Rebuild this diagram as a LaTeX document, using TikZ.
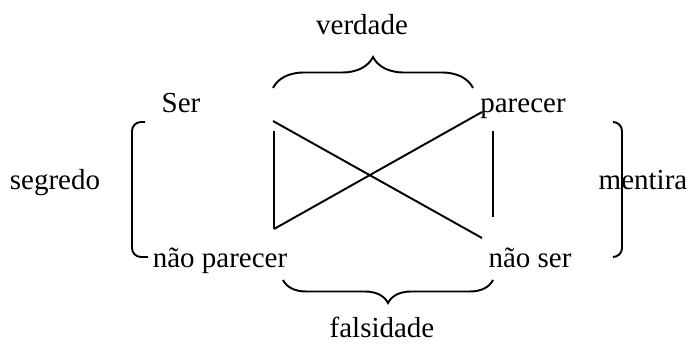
\documentclass[tikz,border=0pt]{standalone}
\usepackage{fontspec}
\setmainfont{Liberation Serif}
\usepackage{tikz}
\usetikzlibrary{calc, decorations.pathreplacing}

\tikzset{
  lbl/.style={anchor=base, inner sep=0pt, font=\fontsize{16.5}{20}\selectfont},
  ln/.style={line width=1.1pt, black},
  bracket/.style={ln, rounded corners=0.18cm},
}

\begin{document}
\begin{tikzpicture}[x=0.02cm, y=-0.02cm]
\useasboundingbox (0,0) rectangle (692,347);

% Corner terms
\node[lbl] (ser) at (181,113) {Ser};
\node[lbl] (parecer) at (523,113) {parecer};
\node[lbl] (naoparecer) at (220,268) {não parecer};
\node[lbl] (naoser) at (530,268) {não ser};

% Side labels
\node[lbl] (verdade) at (362,35) {verdade};
\node[lbl] (falsidade) at (382,337) {falsidade};
\node[lbl] (segredo) at (55,190) {segredo};
\node[lbl] (mentira) at (643,190) {mentira};

% End points of the square
\coordinate (tl) at (273,121);
\coordinate (tlv) at (274,131);
\coordinate (bl) at (274,229);
\coordinate (tr) at (482,112);
\coordinate (br) at (482,238);
\coordinate (trv) at (493,131);
\coordinate (brv) at (493,217);

% Verticals and diagonals
\draw[ln] (tlv) -- (bl);
\draw[ln] (trv) -- (brv);
\draw[ln] (tl) -- (br);
\draw[ln] (bl) -- (tr);

% Braces
\draw[ln, decorate, decoration={brace, amplitude=0.62cm}] (273,88) -- (473,88);
\draw[ln, decorate, decoration={brace, amplitude=0.46cm}] (493,280) -- (283,280);

% Brackets
\draw[bracket] (145,122) -- (132,122) -- (132,257) -- (148,257);
\draw[bracket] (613,122) -- (622,122) -- (622,257) -- (613,257);
\end{tikzpicture}
\end{document}
